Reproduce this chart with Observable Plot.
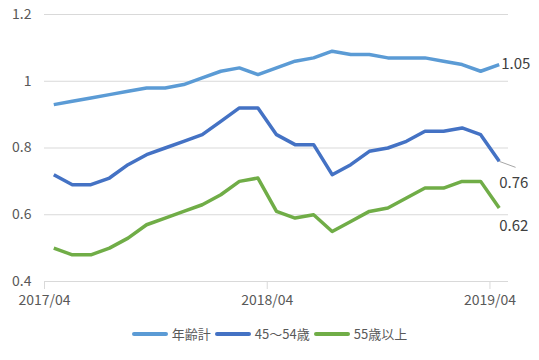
<!DOCTYPE html>
<html>
<head>
<meta charset="utf-8">
<script src="https://cdn.jsdelivr.net/npm/d3@7"></script>
<script src="https://cdn.jsdelivr.net/npm/@observablehq/plot@0.6"></script>
<style>
  body { margin: 0; background: #fff; font-family: "Noto Sans CJK JP", "Noto Sans", sans-serif; }
  #legend { display: flex; justify-content: center; align-items: center; gap: 0; font-size: 13px; color: #595959; margin-top: 6px; padding-left: 0px; }
  .item { display: flex; align-items: center; margin: 0 2px; }
  .sw { width: 36px; height: 4px; border-radius: 2px; margin-right: 4px; }
</style>
</head>
<body>
<div id="chart"></div>
<div id="legend"></div>
<script>
const months = ["2017/04","2017/05","2017/06","2017/07","2017/08","2017/09","2017/10","2017/11","2017/12","2018/01","2018/02","2018/03","2018/04","2018/05","2018/06","2018/07","2018/08","2018/09","2018/10","2018/11","2018/12","2019/01","2019/02","2019/03","2019/04"];
const seriesNames = ["年齢計", "45～54歳", "55歳以上"];
const seriesColors = ["#5b9bd5", "#4472c4", "#70ad47"];
const totalAll = [0.93,0.94,0.95,0.96,0.97,0.98,0.98,0.99,1.01,1.03,1.04,1.02,1.04,1.06,1.07,1.09,1.08,1.08,1.07,1.07,1.07,1.06,1.05,1.03,1.05];
const age45to54 = [0.72,0.69,0.69,0.71,0.75,0.78,0.80,0.82,0.84,0.88,0.92,0.92,0.84,0.81,0.81,0.72,0.75,0.79,0.80,0.82,0.85,0.85,0.86,0.84,0.76];
const age55plus = [0.50,0.48,0.48,0.50,0.53,0.57,0.59,0.61,0.63,0.66,0.70,0.71,0.61,0.59,0.60,0.55,0.58,0.61,0.62,0.65,0.68,0.68,0.70,0.70,0.62];
const xTickLabels = ["2017/04","2018/04","2019/04"];
const yTicks = [0.4,0.6,0.8,1.0,1.2];

const allSeries = [totalAll, age45to54, age55plus];
const data = [];
allSeries.forEach((vals, s) => vals.forEach((v, i) => data.push({i, v, s: seriesNames[s], month: months[i]})));
const last = allSeries.map((vals, s) => ({i: vals.length - 1, v: vals[vals.length - 1], s: seriesNames[s]}));
// tick positions at category boundaries (before each labelled month)
const xTickPos = xTickLabels.map(l => months.indexOf(l) - 0.5);

const fontFam = "'Noto Sans CJK JP', 'Noto Sans', sans-serif";
const chart = Plot.plot({
  width: 539,
  height: 318,
  marginTop: 14,
  marginBottom: 37,
  marginLeft: 44,
  marginRight: 31,
  style: {fontFamily: fontFam, fontSize: "14px", color: "#595959", background: "#fff"},
  x: {domain: [-0.5, months.length - 0.5], axis: null},
  y: {domain: [0.4, 1.2], axis: null},
  color: {domain: seriesNames, range: seriesColors},
  marks: [
    Plot.ruleY(yTicks, {stroke: "#d9d9d9", strokeWidth: 1}),
    Plot.axisY({ticks: yTicks, tickSize: 0, tickPadding: 13, label: null, tickFormat: d => d3.format("~g")(d), fill: "#595959", fontSize: 14}),
    Plot.axisX({ticks: xTickPos, tickSize: 8, stroke: "#d9d9d9", fill: "#595959", tickPadding: 6, label: null, fontSize: 14,
      tickFormat: (d, k) => xTickLabels[k]}),
    Plot.line(data, {x: "i", y: "v", z: "s", stroke: "s", strokeWidth: 3.5, strokeLinejoin: "round", strokeLinecap: "butt"}),
    Plot.link([last[1]], {x1: "i", y1: "v", x2: d => d.i + 0.88, y2: d => d.v - 0.018, stroke: "#a6a6a6", strokeWidth: 1}),
    Plot.text([last[0]], {x: "i", y: "v", text: d => d3.format(".2f")(d.v), textAnchor: "start", dx: 2, dy: 0, fontSize: 15, fill: "#404040"}),
    Plot.text([last[1]], {x: "i", y: "v", text: d => d3.format(".2f")(d.v), textAnchor: "start", dx: 0, dy: 22, fontSize: 15, fill: "#404040"}),
    Plot.text([last[2]], {x: "i", y: "v", text: d => d3.format(".2f")(d.v), textAnchor: "start", dx: 0, dy: 18, fontSize: 15, fill: "#404040"})
  ]
});
document.getElementById("chart").appendChild(chart);

const legend = document.getElementById("legend");
seriesNames.forEach((n, k) => {
  const it = document.createElement("div");
  it.className = "item";
  const sw = document.createElement("div");
  sw.className = "sw";
  sw.style.background = seriesColors[k];
  const t = document.createElement("span");
  t.textContent = n;
  it.appendChild(sw); it.appendChild(t);
  legend.appendChild(it);
});
</script>
</body>
</html>
